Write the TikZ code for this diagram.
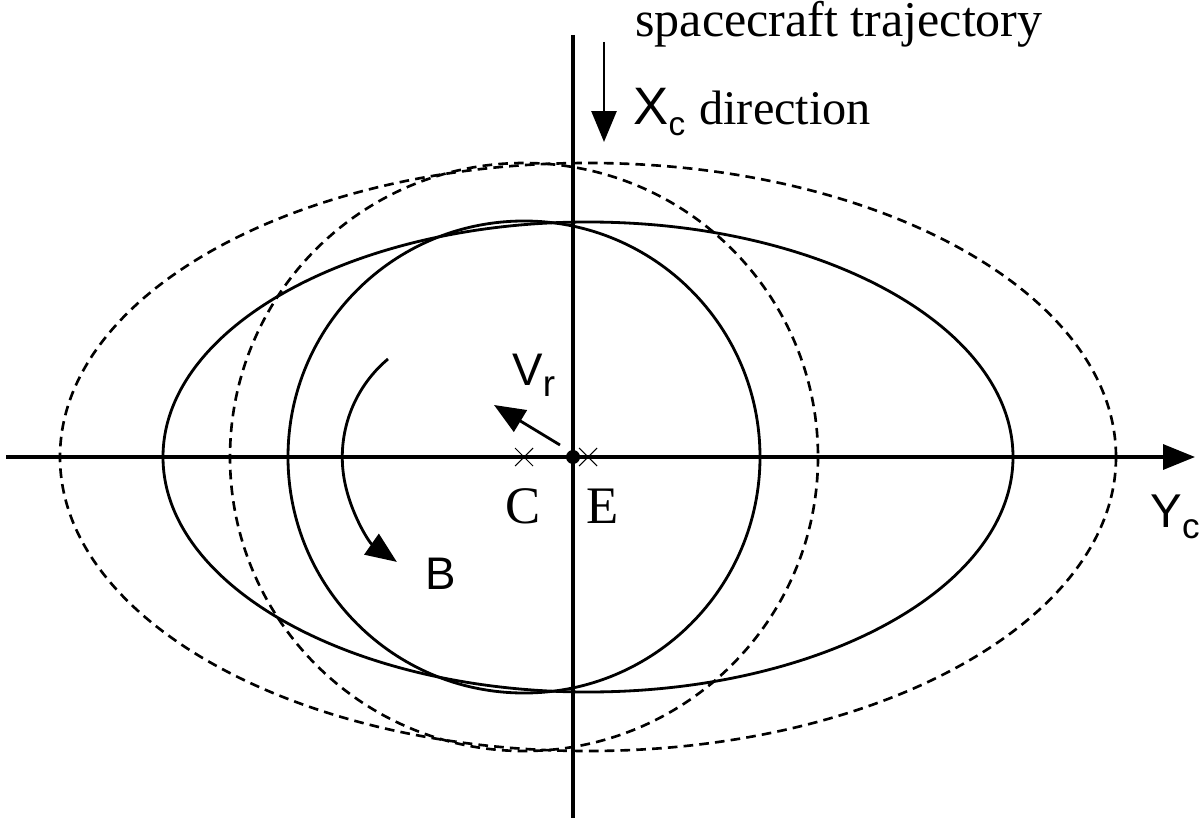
\documentclass[tikz,border=0pt]{standalone}
\usepackage{fontspec}
\setmainfont{Liberation Serif}
\newfontfamily\hv{Liberation Sans}
\usetikzlibrary{arrows.meta}
\newcommand\fsz[1]{\fontsize{#1}{#1}\selectfont}
\begin{document}
\begin{tikzpicture}[x=0.02cm,y=-0.02cm,
  axisline/.style={line width=1.9pt},
  solidcurve/.style={line width=1.6pt},
  dashcurve/.style={line width=1.5pt, dash pattern=on 5.5pt off 3.5pt},
  bigtip/.style={-{Triangle[length=0.64cm,width=0.5cm]}},
  smalltip/.style={line width=1.6pt,-{Triangle[length=0.62cm,width=0.5cm]}},
  crossmark/.style={line width=0.6pt},
  lbl/.style={inner sep=0pt, anchor=base west}
]
\useasboundingbox (0,0) rectangle (1200,824);
% key points
\coordinate (O) at (573,457);
\coordinate (C) at (524,457);
\coordinate (E) at (588,457);
% axes
\coordinate (yl) at (6,457);
\coordinate (yr) at (1195,457);
\coordinate (xt) at (573,35);
\coordinate (xb) at (573,818);
\draw[axisline,bigtip] (yl) -- (yr);
\draw[axisline] (xt) -- (xb);
% solid curves
\draw[solidcurve] (E) ellipse [x radius=425, y radius=235];
\draw[solidcurve] (C) circle [radius=236];
% dashed curves
\draw[dashcurve] (E) ellipse [x radius=528, y radius=294];
\draw[dashcurve] (C) circle [radius=294];
% dot and crosses
\fill (O) circle [radius=7];
\draw[crossmark] (C) +(-9,-9) -- +(9,9) (C) +(-9,9) -- +(9,-9);
\draw[crossmark] (E) +(-9,-9) -- +(9,9) (E) +(-9,9) -- +(9,-9);
% Vr arrow
\coordinate (vs) at (560,445);
\coordinate (ve) at (494,405);
\draw[smalltip] (vs) -- (ve);
% B arrow
\coordinate (bs) at (388,359);
\draw[smalltip] (bs) arc[start angle=230, end angle=125, radius=128];
% down arrow
\coordinate (ds) at (604,42);
\coordinate (de) at (604,142);
\draw[smalltip] (ds) -- (de);
% labels
\node[lbl] (traj) at (635,37) {\fsz{28.5pt}spacecraft trajectory};
\node[lbl] (xc) at (633,125) {\hv\fsz{30pt}X\raisebox{-0.2em}{\fsz{19pt}c}};
\node[lbl] (dir) at (699,125) {\fsz{27.5pt}direction};
\node[lbl] (vr) at (512,385) {\hv\fsz{26pt}V\raisebox{-0.25em}{\fsz{21pt}r}};
\node[inner sep=0pt, anchor=base] (cl) at (523,523) {\fsz{30pt}C};
\node[lbl] (el) at (586,523) {\fsz{30pt}E};
\node[lbl] (bl) at (425,589) {\hv\fsz{26pt}B};
\node[lbl] (ycl) at (1150,527) {\hv\fsz{27pt}Y\raisebox{-0.25em}{\fsz{20pt}c}};
\end{tikzpicture}
\end{document}
